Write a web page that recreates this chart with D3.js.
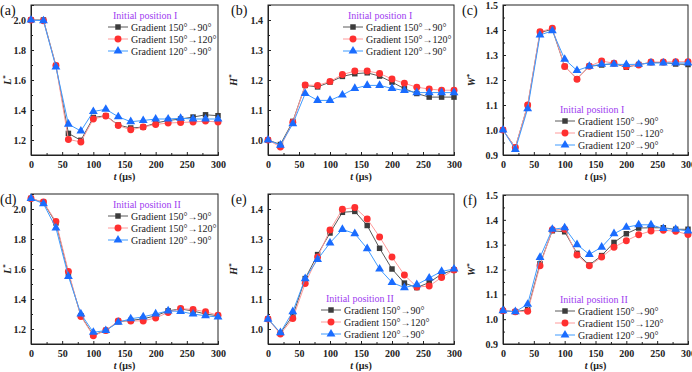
<!DOCTYPE html>
<html>
<head>
<meta charset="utf-8">
<script src="https://cdn.jsdelivr.net/npm/d3@7"></script>
<style>
  body { margin: 0; background: #fff; }
  svg { display: block; font-family: 'Liberation Serif', 'DejaVu Serif', serif; }
</style>
</head>
<body>
<div id="graf"></div>
<script>
// Seis paneles: L*, H*, W* frente a t, dos posiciones iniciales

tiempos = [0, 20, 40, 60, 80, 100, 120, 140, 160, 180, 200, 220, 240, 260, 280, 300]
nombres = ['Gradient 150°→90°', 'Gradient 150°→120°', 'Gradient 120°→90°']
xTicks = [0, 50, 100, 150, 200, 250, 300]

// (a) L*, posición inicial I
a_150_90  = [2.0, 2.0, 1.696, 1.244, 1.198, 1.35, 1.362, 1.30, 1.28, 1.286, 1.313, 1.33, 1.34, 1.353, 1.368, 1.362]
a_150_120 = [2.0, 1.995, 1.696, 1.204, 1.187, 1.34, 1.36, 1.297, 1.268, 1.286, 1.304, 1.313, 1.317, 1.32, 1.326, 1.32]
a_120_90  = [2.0, 1.995, 1.687, 1.306, 1.26, 1.39, 1.405, 1.355, 1.322, 1.33, 1.34, 1.34, 1.345, 1.34, 1.34, 1.34]

// (b) H*, posición inicial I
b_150_90  = [1.0, 0.985, 1.062, 1.182, 1.177, 1.193, 1.212, 1.221, 1.224, 1.213, 1.193, 1.171, 1.155, 1.143, 1.143, 1.143]
b_150_120 = [1.0, 0.977, 1.059, 1.183, 1.182, 1.195, 1.218, 1.23, 1.23, 1.222, 1.203, 1.189, 1.176, 1.17, 1.166, 1.166]
b_120_90  = [1.0, 0.983, 1.054, 1.155, 1.132, 1.132, 1.15, 1.172, 1.182, 1.182, 1.172, 1.165, 1.158, 1.158, 1.158, 1.158]

// (c) W*, posición inicial I
c_150_90  = [1.0, 0.93, 1.098, 1.39, 1.403, 1.254, 1.205, 1.255, 1.26, 1.266, 1.251, 1.262, 1.27, 1.27, 1.264, 1.262]
c_150_120 = [1.0, 0.93, 1.1, 1.393, 1.407, 1.254, 1.203, 1.255, 1.276, 1.267, 1.254, 1.26, 1.272, 1.272, 1.273, 1.273]
c_120_90  = [1.0, 0.922, 1.085, 1.38, 1.397, 1.283, 1.238, 1.255, 1.263, 1.263, 1.262, 1.263, 1.268, 1.268, 1.268, 1.268]

// (d) L*, posición inicial II
d_150_90  = [2.07, 2.044, 1.907, 1.571, 1.288, 1.16, 1.19, 1.249, 1.257, 1.268, 1.288, 1.321, 1.334, 1.32, 1.30, 1.288]
d_150_120 = [2.07, 2.046, 1.916, 1.584, 1.284, 1.155, 1.19, 1.254, 1.254, 1.254, 1.274, 1.31, 1.336, 1.33, 1.315, 1.292]
d_120_90  = [2.07, 2.035, 1.874, 1.551, 1.301, 1.178, 1.19, 1.245, 1.268, 1.281, 1.301, 1.321, 1.317, 1.30, 1.288, 1.28]

// (e) H*, posición inicial II
e_150_90  = [1.033, 0.987, 1.044, 1.168, 1.248, 1.32, 1.389, 1.392, 1.345, 1.269, 1.2, 1.153, 1.138, 1.155, 1.183, 1.197]
e_150_120 = [1.033, 0.983, 1.035, 1.152, 1.24, 1.33, 1.399, 1.405, 1.367, 1.307, 1.24, 1.18, 1.14, 1.143, 1.172, 1.197]
e_120_90  = [1.033, 0.988, 1.058, 1.168, 1.232, 1.287, 1.332, 1.318, 1.268, 1.2, 1.155, 1.138, 1.148, 1.17, 1.192, 1.2]

// (f) W*, posición inicial II
f_150_90  = [1.034, 1.03, 1.038, 1.223, 1.356, 1.352, 1.265, 1.218, 1.256, 1.309, 1.344, 1.367, 1.368, 1.368, 1.362, 1.362]
f_150_120 = [1.034, 1.03, 1.032, 1.215, 1.36, 1.362, 1.258, 1.215, 1.25, 1.29, 1.316, 1.34, 1.355, 1.358, 1.354, 1.341]
f_120_90  = [1.034, 1.03, 1.06, 1.249, 1.362, 1.368, 1.30, 1.261, 1.29, 1.344, 1.37, 1.38, 1.38, 1.365, 1.362, 1.355]

estilos = [
  { linea: '#5a5a5a', marca: '#3c3c3c', forma: d3.symbolSquare, tam: 30 },
  { linea: '#ff9a9a', marca: '#ff3030', forma: d3.symbolCircle, tam: 38 },
  { linea: '#3f9bff', marca: '#1a6cff', forma: d3.symbolTriangle, tam: 34 }
]
morado = '#a040f0'

paneles = [
  { letra: '(a)', eje: 'L', pos: 'I',  series: [a_150_90, a_150_120, a_120_90],
    x0: 31, x1: 218, y0: 5, y1: 155, dom: [1.1, 2.1], ticks: [1.2, 1.4, 1.6, 1.8, 2.0], menor: 0.1,
    ley: [108, 15], tx: 11, lx: 0 },
  { letra: '(b)', eje: 'H', pos: 'I',  series: [b_150_90, b_150_120, b_120_90],
    x0: 268, x1: 454, y0: 5, y1: 155, dom: [0.95, 1.45], ticks: [1.0, 1.1, 1.2, 1.3, 1.4], menor: 0.05,
    ley: [343, 15], tx: 237, lx: 231 },
  { letra: '(c)', eje: 'W', pos: 'I',  series: [c_150_90, c_150_120, c_120_90],
    x0: 503, x1: 688, y0: 5, y1: 155, dom: [0.9, 1.5], ticks: [0.9, 1.0, 1.1, 1.2, 1.3, 1.4, 1.5], menor: 0.05,
    ley: [555, 109], tx: 475, lx: 462 },
  { letra: '(d)', eje: 'L', pos: 'II', series: [d_150_90, d_150_120, d_120_90],
    x0: 31, x1: 218, y0: 194, y1: 344, dom: [1.1, 2.1], ticks: [1.2, 1.4, 1.6, 1.8, 2.0], menor: 0.1,
    ley: [108, 204], tx: 11, lx: 0 },
  { letra: '(e)', eje: 'H', pos: 'II', series: [e_150_90, e_150_120, e_120_90],
    x0: 268, x1: 454, y0: 194, y1: 344, dom: [0.95, 1.45], ticks: [1.0, 1.1, 1.2, 1.3, 1.4], menor: 0.05,
    ley: [321, 298], tx: 237, lx: 231 },
  { letra: '(f)', eje: 'W', pos: 'II', series: [f_150_90, f_150_120, f_120_90],
    x0: 503, x1: 688, y0: 195, y1: 344, dom: [0.9, 1.5], ticks: [0.9, 1.0, 1.1, 1.2, 1.3, 1.4, 1.5], menor: 0.05,
    ley: [555, 299], tx: 475, lx: 463 }
]

svg = d3.select('#graf').append('svg')
        .attr('width', 692)
        .attr('height', 372)

paneles.forEach(p => dibujar(p))

function dibujar(p) {
  x = d3.scaleLinear().domain([0, 300]).range([p.x0, p.x1])
  y = d3.scaleLinear().domain(p.dom).range([p.y1, p.y0])
  g = svg.append('g')

  // marco
  g.append('rect')
    .attr('x', p.x0).attr('y', p.y0)
    .attr('width', p.x1 - p.x0).attr('height', p.y1 - p.y0)
    .attr('fill', 'none').attr('stroke', '#222').attr('stroke-width', 1)

  // ejes con marcas hacia dentro
  xAxis = d3.axisBottom(x).tickValues(xTicks).tickSize(-3).tickPadding(6)
  g.append('g').attr('transform', `translate(0, ${p.y1})`).call(xAxis)
  menoresX = d3.range(25, 300, 50)
  g.append('g').attr('transform', `translate(0, ${p.y1})`)
    .call(d3.axisBottom(x).tickValues(menoresX).tickSize(-2).tickFormat(''))
    .call(s => s.select('.domain').remove())

  yAxis = d3.axisLeft(y).tickValues(p.ticks).tickSize(-3).tickPadding(5).tickFormat(d3.format('.1f'))
  g.append('g').attr('transform', `translate(${p.x0}, 0)`).call(yAxis)
  menoresY = d3.range(p.dom[0], p.dom[1] + 1e-9, p.menor)
                .map(v => +v.toFixed(3))
                .filter(v => !p.ticks.some(t => Math.abs(t - v) < 1e-6))
  g.append('g').attr('transform', `translate(${p.x0}, 0)`)
    .call(d3.axisLeft(y).tickValues(menoresY).tickSize(-2).tickFormat(''))
    .call(s => s.select('.domain').remove())

  g.selectAll('.domain').attr('stroke', '#222')
  g.selectAll('.tick line').attr('stroke', '#222')
  g.selectAll('.tick text')
    .attr('font-family', "'Liberation Serif', serif")
    .attr('font-weight', 'bold')
    .attr('font-size', 10)
    .attr('fill', '#222')

  // título eje x
  tt = g.append('text')
    .attr('x', (p.x0 + p.x1) / 2).attr('y', p.y1 + 25)
    .attr('text-anchor', 'middle')
    .attr('font-size', 10).attr('font-weight', 'bold').attr('fill', '#222')
  tt.append('tspan').attr('font-style', 'italic').text('t')
  tt.append('tspan').text(' (μs)')

  // título eje y
  ty = g.append('text')
    .attr('transform', `translate(${p.tx}, ${(p.y0 + p.y1) / 2}) rotate(-90)`)
    .attr('text-anchor', 'middle')
    .attr('font-size', 10).attr('font-weight', 'bold').attr('fill', '#222')
  ty.append('tspan').attr('font-style', 'italic').text(p.eje)
  ty.append('tspan').attr('dy', -4).attr('font-size', 7).text('*')

  // letra del panel
  g.append('text')
    .attr('x', p.lx)
    .attr('y', p.y0 + 10)
    .attr('font-size', 14).attr('fill', '#111')
    .text(p.letra)

  // series
  lineaGen = d3.line()
    .x((d, i) => x(tiempos[i]))
    .y(d => y(d))

  p.series.forEach((serie, k) => {
    e = estilos[k]
    g.append('path')
      .attr('d', lineaGen(serie))
      .attr('fill', 'none')
      .attr('stroke', e.linea)
      .attr('stroke-width', 1)
    g.selectAll(null)
      .data(serie)
      .enter().append('path')
      .attr('d', d3.symbol().type(e.forma).size(e.tam))
      .attr('transform', (d, i) => `translate(${x(tiempos[i])}, ${y(d)})`)
      .attr('fill', e.marca)
  })

  // leyenda
  lx = p.ley[0]
  ly = p.ley[1]
  g.append('text')
    .attr('x', lx + 5).attr('y', ly + 4)
    .attr('font-size', 10).attr('fill', morado)
    .text('Initial position ' + p.pos)
  nombres.forEach((n, k) => {
    e = estilos[k]
    yy = ly + 12 * (k + 1)
    g.append('line')
      .attr('x1', lx).attr('x2', lx + 20)
      .attr('y1', yy).attr('y2', yy)
      .attr('stroke', e.linea).attr('stroke-width', 1)
    g.append('path')
      .attr('d', d3.symbol().type(e.forma).size(e.tam)())
      .attr('transform', `translate(${lx + 10}, ${yy})`)
      .attr('fill', e.marca)
    g.append('text')
      .attr('x', lx + 23).attr('y', yy + 3.5)
      .attr('font-size', 10).attr('fill', '#222')
      .text(n)
  })
}
</script>
</body>
</html>
